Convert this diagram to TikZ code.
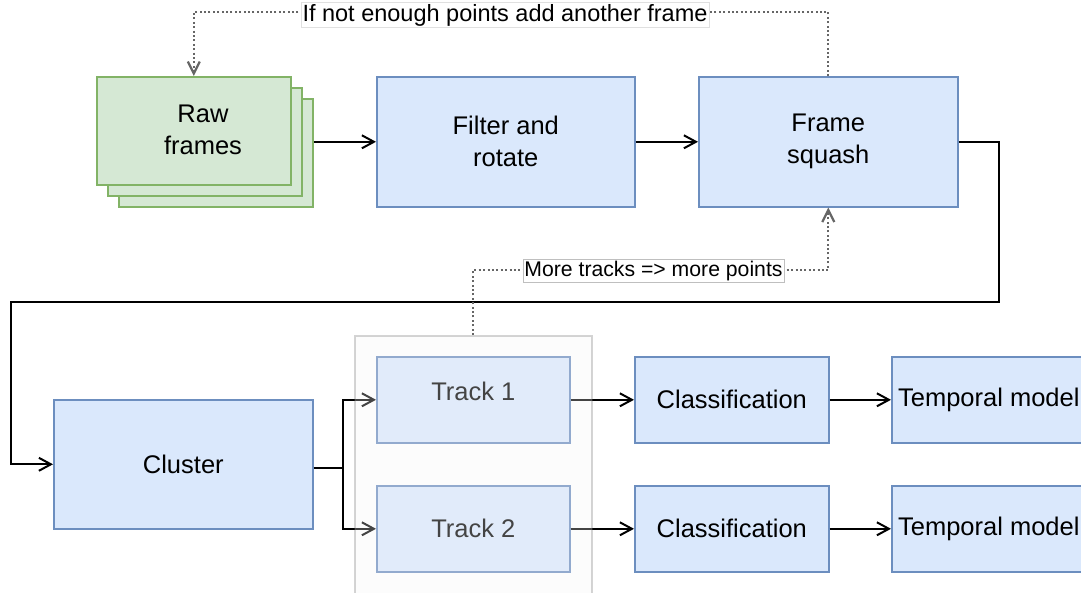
\documentclass[tikz,border=0pt]{standalone}
\usepackage{fontspec}
\setmainfont{Liberation Sans}
\usetikzlibrary{arrows.meta}
\definecolor{bfill}{HTML}{DAE8FC}
\definecolor{bstroke}{HTML}{6C8EBF}
\definecolor{gfill}{HTML}{D5E8D4}
\definecolor{gstroke}{HTML}{82B366}
\definecolor{dotgray}{HTML}{666666}
\definecolor{contfill}{HTML}{F5F5F5}
\tikzset{
  box/.style={draw=bstroke, fill=bfill, line width=1.6pt, anchor=north west, inner sep=0pt,
    align=center, font=\fontsize{25.5}{32}\selectfont},
  gbox/.style={draw=gstroke, fill=gfill, line width=1.6pt, anchor=north west, inner sep=0pt,
    minimum width=194pt, minimum height=108pt},
  txt/.style={align=center, inner sep=0pt, font=\fontsize{25.5}{32}\selectfont},
  arr/.style={line width=2pt, -{Straight Barb[length=12pt,width=13pt]}},
  line/.style={line width=2pt},
  dot/.style={draw=dotgray, line width=2.2pt, dash pattern=on 2pt off 2.4pt,
    -{Straight Barb[length=12pt,width=12pt]}},
  cont/.style={anchor=north west, fill=contfill, fill opacity=0.28, draw=dotgray, draw opacity=0.28,
    line width=1.6pt, inner sep=0pt},
  lab/.style={fill=white, inner sep=1.5pt, line width=0.8pt},
}
\begin{document}
\begin{tikzpicture}[x=1pt, y=-1pt]
\useasboundingbox (0,0) rectangle (1081,593);
% raw frames stack
\node[gbox] (rawc) at (118,98) {};
\node[gbox] (rawb) at (107,87) {};
\node[gbox] (raw) at (96,76) {};
\node[txt] (rawt) at (203,130) {Raw\\frames};
% top row
\node[box, minimum width=258pt, minimum height=130pt] (filt) at (376,76) {Filter and\\rotate};
\node[box, minimum width=259pt, minimum height=130pt] (sq) at (698,76) {Frame\\squash};
% cluster
\node[box, minimum width=259pt, minimum height=129pt] (cl) at (53,399) {Cluster};
% tracks
\node[box, minimum width=193pt, minimum height=86pt] (t1) at (376,356) {};
\node[txt] (t1l) at ([yshift=8pt]t1.center) {Track 1};
\node[box, minimum width=193pt, minimum height=86pt] (t2) at (376,485) {Track 2};
% classification
\node[box, minimum width=194pt, minimum height=86pt] (cs1) at (634,356) {Classification};
\node[box, minimum width=194pt, minimum height=86pt] (cs2) at (634,485) {Classification};
% temporal
\node[box, minimum width=194pt, minimum height=86pt] (tm1) at (891,356) {Temporal model};
\node[box, minimum width=194pt, minimum height=86pt] (tm2) at (891,485) {Temporal model};
% connectors
\draw[arr] (filt.west -| rawc.east) -- (filt.west);
\draw[arr] (filt.east) -- (sq.west);
\coordinate (r1) at (999,302);
\coordinate (r2) at (11,302);
\draw[arr] (sq.east) -| (r1) -- (r2) |- (cl.west);
\coordinate (sp) at (343,468);
\draw[line] (cl.east |- sp) -- (sp);
\draw[arr] (sp) |- (t1.west);
\draw[arr] (sp) |- (t2.west);
\draw[arr] (t1.east) -- (cs1.west);
\draw[arr] (t2.east) -- (cs2.west);
\draw[arr] (cs1.east) -- (tm1.west);
\draw[arr] (cs2.east) -- (tm2.west);
% container overlay
\node[cont, minimum width=237pt, minimum height=275pt] (cont) at (354,335) {};
% dotted feedback
\draw[dot] (sq.north) -- ++(0,-64) -| (raw.north);
\node[lab, draw=black!12, font=\fontsize{23.5}{28}\selectfont] (toplab) at (505,15) {If not enough points add another frame};
\coordinate (m1) at (653,270);
\draw[dot] (cont.north) |- (m1) -| (sq.south);
\node[lab, draw=black!25, font=\fontsize{21.2}{25}\selectfont] (midlab) at (653.5,271) {More tracks => more points};
\end{tikzpicture}
\end{document}
